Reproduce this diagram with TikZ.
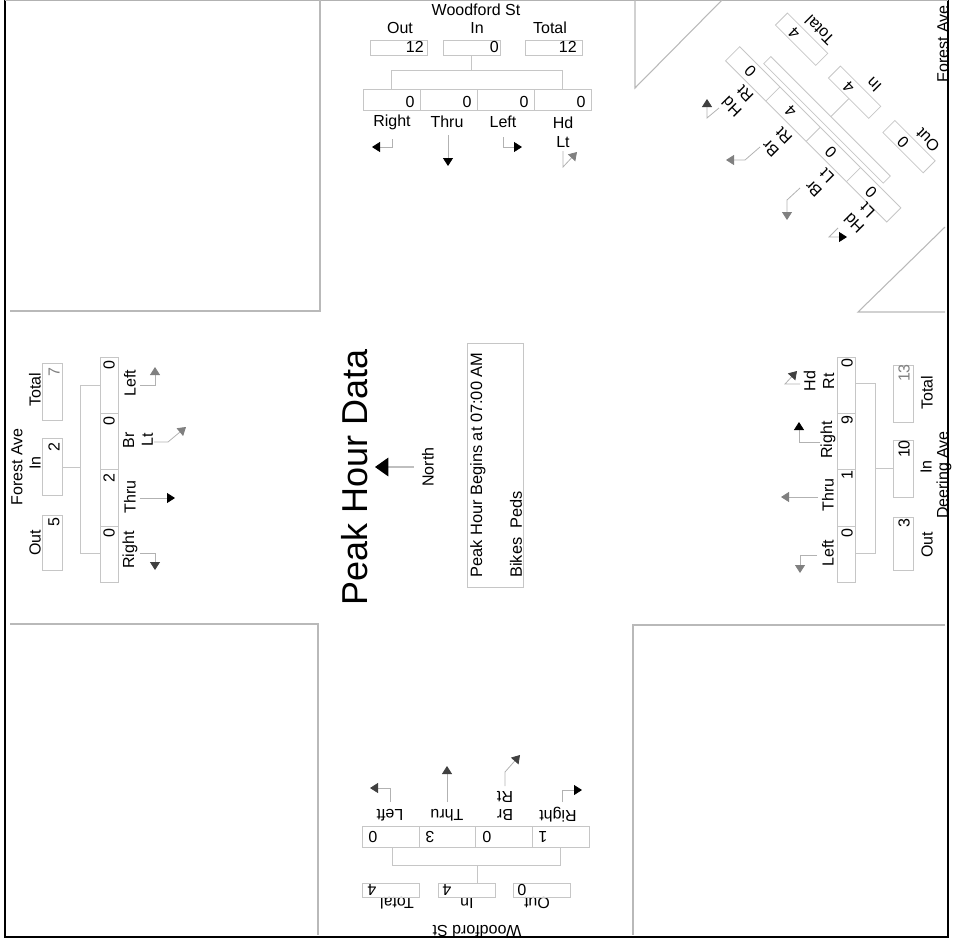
\documentclass[tikz,border=0pt]{standalone}
\usepackage{fontspec}
\setmainfont{Liberation Sans}
\usetikzlibrary{arrows.meta}
\begin{document}
\begin{tikzpicture}[x=0.75pt,y=-0.75pt,
  lbl/.style={font=\fontsize{12}{14}\selectfont, inner sep=0pt, align=center},
  val/.style={font=\fontsize{12}{14}\selectfont, inner sep=0pt},
  bx/.style={draw=gray!45, line width=0.6pt},
  conn/.style={draw=gray!45, line width=0.6pt},
  road/.style={draw=gray!55, line width=0.8pt},
  arr/.style={draw=gray!60, line width=0.6pt, -{Triangle[width=7.5pt,length=6pt,color=#1]}},
  arr/.default=black]
\useasboundingbox (0,0) rectangle (956,940);
% frame
\draw[line width=2.2pt] (5,0) -- (5,937) -- (948,937) -- (948,0);
\draw[gray!60, line width=0.8pt] (5,0.5) -- (948,0.5);
% road edges
\draw[road] (320,0) -- (320,311) -- (10,311);
\draw[road] (10,624) -- (318,624) -- (318,935);
\draw[road] (945,625) -- (633,625) -- (633,935);
\draw[road] (635,0) -- (635,88) -- (722,0);
\draw[road] (945,227) -- (858,312) -- (945,312);

% ===== top: Woodford St =====
\node[lbl] (wsn) at (476,10) {Woodford St};
\node[lbl] (tOut) at (400,28) {Out};
\node[lbl] (tIn) at (477,28) {In};
\node[lbl] (tTot) at (550,28) {Total};
\draw[bx] (370,40) rectangle (427,55);
\draw[bx] (443,40) rectangle (500,55);
\draw[bx] (525,40) rectangle (582,55);
\node[val,anchor=east] (tOutv) at (424,47) {12};
\node[val,anchor=east] (tInv) at (499,47) {0};
\node[val,anchor=east] (tTotv) at (577,47) {12};
\draw[conn] (471,55) -- (471,70);
\draw[conn] (391,89) -- (391,70) -- (562,70) -- (562,89);
\draw[bx] (363,89) rectangle (591,110);
\foreach \xx in {420,477,534} \draw[bx] (\xx,89) -- (\xx,110);
\node[val] (tv1) at (410,102) {0};
\node[val] (tv2) at (467,102) {0};
\node[val] (tv3) at (524,102) {0};
\node[val] (tv4) at (581,102) {0};
\node[lbl] (tR) at (392,122) {Right};
\node[lbl] (tT) at (447,122) {Thru};
\node[lbl] (tL) at (503,122) {Left};
\node[lbl] (tH) at (563,132) {Hd\\Lt};
\draw[arr] (392,139) -- (392,147) -- (372,147);
\draw[arr] (448,135) -- (448,166);
\draw[arr] (503,137) -- (503,147) -- (522,147);
\draw[arr=gray] (563,151) -- (563,167) -- (577,152);

% ===== left: Forest Ave =====
\node[lbl,rotate=90] (fwn) at (17,467) {Forest Ave};
\node[lbl,rotate=90] (lTot) at (35,390) {Total};
\node[lbl,rotate=90] (lIn) at (35,463) {In};
\node[lbl,rotate=90] (lOut) at (35,543) {Out};
\draw[bx] (42,363) rectangle (62,420);
\draw[bx] (42,438) rectangle (62,495);
\draw[bx] (42,515) rectangle (62,570);
\node[val,rotate=90,text=gray] (lTotv) at (54,372) {7};
\node[val,rotate=90] (lInv) at (54,447) {2};
\node[val,rotate=90] (lOutv) at (54,522) {5};
\draw[conn] (62,467) -- (80,467);
\draw[conn] (100,385) -- (80,385) -- (80,553) -- (100,553);
\draw[bx] (100,357) rectangle (118,582);
\foreach \yy in {413,469,526} \draw[bx] (100,\yy) -- (118,\yy);
\node[val,rotate=90] (lv1) at (109,365) {0};
\node[val,rotate=90] (lv2) at (109,421) {0};
\node[val,rotate=90] (lv3) at (109,478) {2};
\node[val,rotate=90] (lv4) at (109,533) {0};
\node[lbl,rotate=90] (lL) at (130,383) {Left};
\node[lbl,rotate=90] (lB) at (138,440) {Br\\Lt};
\node[lbl,rotate=90] (lT) at (130,497) {Thru};
\node[lbl,rotate=90] (lR) at (130,550) {Right};
\draw[arr=gray] (140,385) -- (155,385) -- (155,367);
\draw[arr=gray] (154,442) -- (168,442) -- (186,427);
\draw[arr] (140,498) -- (175,498);
\draw[arr=darkgray] (140,553) -- (155,553) -- (155,570);

% ===== right: Deering Ave =====
\node[lbl,rotate=90] (dwn) at (944,475) {Deering Ave};
\node[lbl,rotate=90] (rTot) at (927,393) {Total};
\node[lbl,rotate=90] (rIn) at (926,467) {In};
\node[lbl,rotate=90] (rOut) at (927,545) {Out};
\draw[bx] (893,365) rectangle (913,422);
\draw[bx] (893,440) rectangle (913,497);
\draw[bx] (893,517) rectangle (913,570);
\node[val,rotate=90,text=gray] (rTotv) at (904,373) {13};
\node[val,rotate=90] (rInv) at (904,449) {10};
\node[val,rotate=90] (rOutv) at (904,523) {3};
\draw[conn] (855,383) -- (875,383) -- (875,553) -- (855,553);
\draw[conn] (875,468) -- (893,468);
\draw[bx] (837,357) rectangle (855,582);
\foreach \yy in {413,469,526} \draw[bx] (837,\yy) -- (855,\yy);
\node[val,rotate=90] (rv1) at (847,363) {0};
\node[val,rotate=90] (rv2) at (847,420) {9};
\node[val,rotate=90] (rv3) at (847,475) {1};
\node[val,rotate=90] (rv4) at (847,533) {0};
\node[lbl,rotate=90] (rH) at (819,381) {Hd\\Rt};
\node[lbl,rotate=90] (rR) at (828,440) {Right};
\node[lbl,rotate=90] (rT) at (828,495) {Thru};
\node[lbl,rotate=90] (rL) at (828,553) {Left};
\draw[arr=darkgray] (800,384) -- (785,384) -- (797,371);
\draw[arr] (820,442) -- (799,442) -- (799,422);
\draw[arr=gray] (818,497) -- (781,497);
\draw[arr=gray] (817,555) -- (800,555) -- (800,573);

% ===== bottom: Woodford St =====
\node[lbl,rotate=180] (wss) at (477,931) {Woodford St};
\node[lbl,rotate=180] (bTot) at (397,903) {Total};
\node[lbl,rotate=180] (bIn) at (467,903) {In};
\node[lbl,rotate=180] (bOut) at (537,903) {Out};
\draw[bx] (362,883) rectangle (419,897);
\draw[bx] (438,883) rectangle (495,897);
\draw[bx] (513,883) rectangle (570,897);
\node[val,rotate=180] (bTotv) at (372,890) {4};
\node[val,rotate=180] (bInv) at (447,890) {4};
\node[val,rotate=180] (bOutv) at (522,890) {0};
\draw[conn] (477,883) -- (477,865);
\draw[conn] (392,847) -- (392,865) -- (560,865) -- (560,847);
\draw[bx] (362,826) rectangle (589,847);
\foreach \xx in {419,475,532} \draw[bx] (\xx,826) -- (\xx,847);
\node[val,rotate=180] (bv1) at (373,837) {0};
\node[val,rotate=180] (bv2) at (430,837) {3};
\node[val,rotate=180] (bv3) at (487,837) {0};
\node[val,rotate=180] (bv4) at (543,837) {1};
\node[lbl,rotate=180] (bL) at (390,815) {Left};
\node[lbl,rotate=180] (bT) at (447,815) {Thru};
\node[lbl,rotate=180] (bB) at (505,806) {Br\\Rt};
\node[lbl,rotate=180] (bR) at (558,815) {Right};
\draw[arr=darkgray] (390,802) -- (390,788) -- (370,788);
\draw[arr=darkgray] (447,802) -- (447,766);
\draw[arr=darkgray] (505,786) -- (505,772) -- (520,755);
\draw[arr] (562,802) -- (562,790) -- (582,790);

% ===== north-east: Forest Ave =====
\node[lbl,rotate=90] (fen) at (943,44) {Forest Ave};
\begin{scope}[shift={(732.6,53.7)}, rotate=-45]
  \draw[bx] (0,-10) rectangle (228,10);
  \foreach \uu in {57,114,171} \draw[bx] (\uu,-10) -- (\uu,10);
  \draw[conn] (29,-15) rectangle (198,-25);
  \draw[conn] (114,-25) -- (114,-50.5);
  \draw[bx] (10,-67.5) rectangle (67,-50.5);
  \draw[bx] (85,-67.5) rectangle (142,-50.5);
  \draw[bx] (162,-67.5) rectangle (219,-50.5);
  \node[val,rotate=135] (nv1) at (25,0) {0};
  \node[val,rotate=135] (nv2) at (82,0) {4};
  \node[val,rotate=135] (nv3) at (139,0) {0};
  \node[val,rotate=135] (nv4) at (196,0) {0};
  \node[val,rotate=135] (nTotv) at (29,-58) {4};
  \node[val,rotate=135] (nInv) at (106,-58) {4};
  \node[val,rotate=135] (nOutv) at (183,-58) {0};
  \node[lbl,rotate=135] (nTot) at (45,-78) {Total};
  \node[lbl,rotate=135] (nIn) at (122,-78) {In};
  \node[lbl,rotate=135] (nOut) at (199,-77) {Out};
  \node[lbl,rotate=135] (nH1) at (37,29) {Hd\\Rt};
  \node[lbl,rotate=135] (nB1) at (94,31) {Br\\Rt};
  \node[lbl,rotate=135] (nB2) at (153,29) {Br\\Lt};
  \node[lbl,rotate=135] (nH2) at (206,25) {Hd\\Lt};
\end{scope}
\draw[arr=darkgray] (719,108) -- (707,118) -- (707,99);
\draw[arr=gray] (760,147) -- (745,160) -- (726,160);
\draw[arr=gray] (800,188) -- (787,200) -- (787,220);
\draw[arr] (838,228) -- (829,237) -- (847,237);

% ===== centre =====
\node[font=\fontsize{27}{30}\selectfont, rotate=90, inner sep=0pt] (title) at (355,477) {Peak Hour Data};
\node[font=\fontsize{12}{14}\selectfont, rotate=90, inner sep=0pt] (north) at (428,467) {North};
\coordinate (ntip) at (375,467);
\draw[draw=gray!50, line width=0.8pt, shorten <=6pt, -{Triangle[width=14pt,length=10pt,color=black]}] (north.north) -- (ntip);
\draw[bx] (467,343) rectangle (523,587);
\node[font=\fontsize{12.3}{14}\selectfont, rotate=90, anchor=west, inner sep=0pt] (phb) at (478,578) {Peak Hour Begins at 07:00 AM};
\node[font=\fontsize{12.3}{14}\selectfont, rotate=90, anchor=west, inner sep=0pt] (bp) at (516,578) {Bikes\ \ Peds};
\end{tikzpicture}
\end{document}
